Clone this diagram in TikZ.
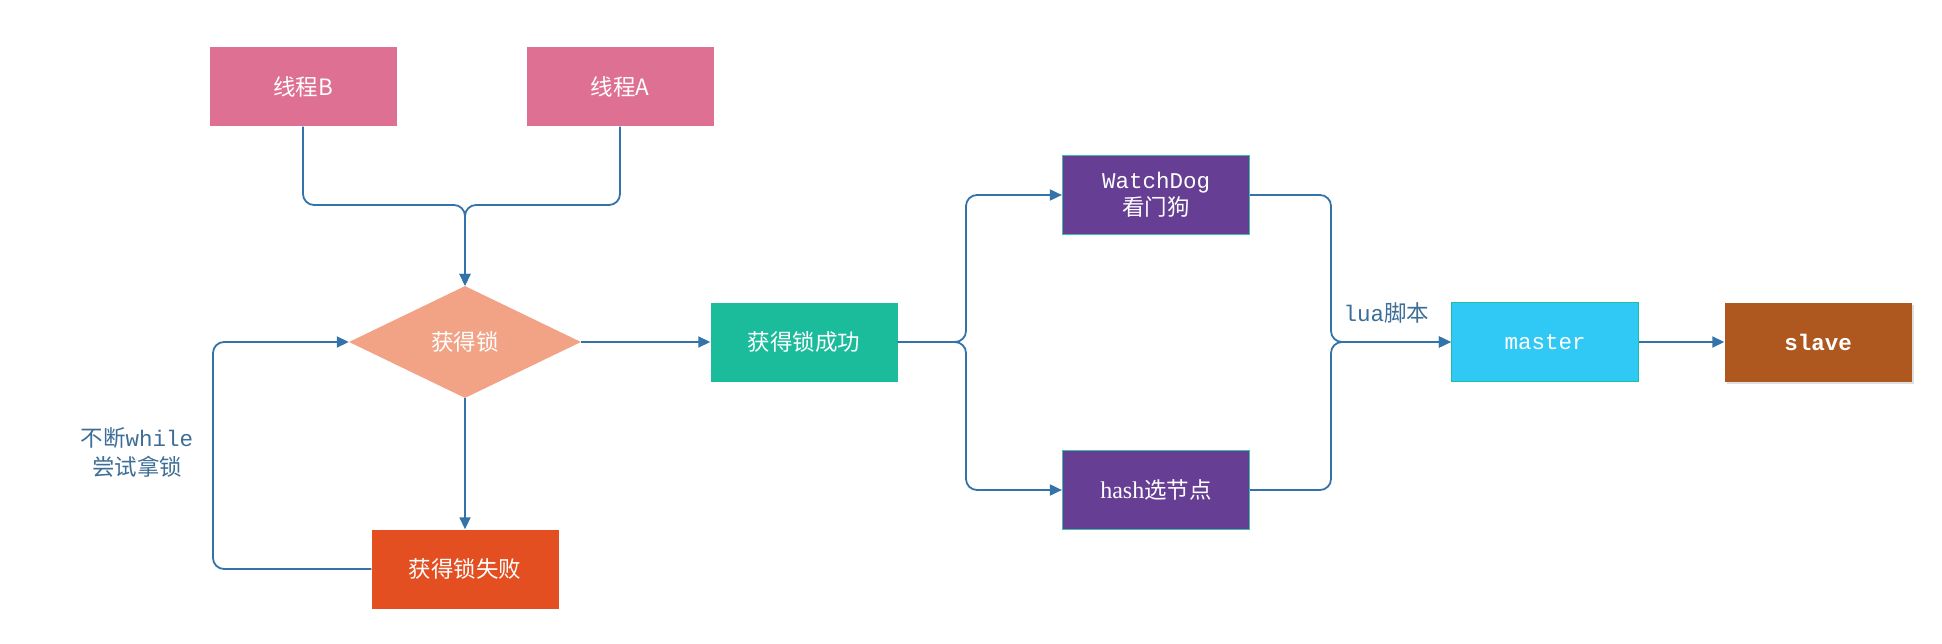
\documentclass[tikz,border=0pt]{standalone}
\usepackage{fontspec}
\setmainfont{Liberation Mono}
\newfontfamily\cjk{Noto Sans CJK SC}
\newfontfamily\latser{Liberation Serif}
\usetikzlibrary{arrows.meta,shapes.geometric,shadows}
\definecolor{pinkc}{HTML}{DE7093}
\definecolor{salmonc}{HTML}{F2A385}
\definecolor{tealc}{HTML}{1ABC9C}
\definecolor{failc}{HTML}{E34F21}
\definecolor{purplec}{HTML}{663E93}
\definecolor{purpleb}{HTML}{3DBFAE}
\definecolor{cyanc}{HTML}{30C9F5}
\definecolor{cyanb}{HTML}{20BFA0}
\definecolor{brownc}{HTML}{AE5820}
\definecolor{linec}{HTML}{3473A9}
\definecolor{labelc}{HTML}{3E6D96}
\newcommand\fsz{\fontsize{22.5}{26}\selectfont}
\tikzset{
  box/.style={rectangle, minimum width=187pt, minimum height=79pt, inner sep=0pt, text=white, font=\fsz, align=center},
  conn/.style={draw=linec, line width=1.8pt, rounded corners=11pt},
  arr/.style={conn, -{Triangle[length=12pt,width=11pt]}},
}
\begin{document}
\begin{tikzpicture}[x=1pt,y=-1pt]
\useasboundingbox (0,0) rectangle (1942,644);
\node[box, fill=pinkc] (tB) at (303,87) {\cjk 线程B};
\node[box, fill=pinkc] (tA) at (620,87) {\cjk 线程A};
\node[diamond, fill=salmonc, minimum width=232pt, minimum height=112pt, inner sep=0pt, text=white, font=\fsz] (dia) at (465,342) {\cjk 获得锁};
\node[box, fill=tealc] (succ) at (804,342) {\cjk 获得锁成功};
\node[box, fill=failc] (fail) at (465,569) {\cjk 获得锁失败};
\node[box, fill=purplec, draw=purpleb, line width=1.2pt] (wd) at (1156,195) {WatchDog\\[1pt]{\cjk 看门狗}};
\node[box, fill=purplec, draw=purpleb, line width=1.2pt] (hs) at (1156,490) {{\latser\fontsize{24}{26}\selectfont hash}{\cjk 选节点}};
\node[box, fill=cyanc, draw=cyanb, line width=1.2pt] (ms) at (1545,342) {master};
\node[box, fill=brownc, drop shadow={opacity=0.25, shadow xshift=2pt, shadow yshift=-2pt}] (sl) at (1818,342) {\bfseries slave};
\coordinate (jn) at (465,205);
\coordinate (lp) at (213,450);
\coordinate (br) at (966,342);
\coordinate (mg) at (1331,342);
\draw[arr] (tB.south) |- (jn) -- (dia.north);
\draw[arr] (tA.south) |- (jn) -- (dia.north);
\draw[arr] (dia.south) -- (fail.north);
\draw[arr] (fail.west) -| (lp) |- (dia.west);
\draw[arr] (dia.east) -- (succ.west);
\draw[arr] (succ.east) -- (br) |- (wd.west);
\draw[arr] (succ.east) -- (br) |- (hs.west);
\draw[arr] (wd.east) -| (mg) -- (ms.west);
\draw[arr] (hs.east) -| (mg) -- (ms.west);
\draw[arr] (ms.east) -- (sl.west);
\node[text=labelc, font=\fsz, align=center] (lab) at (137,452) {{\cjk 不断}while\\[3pt]{\cjk 尝试拿锁}};
\node[text=labelc, font=\fsz, anchor=west] (lua) at (1340,313) {lua{\cjk 脚本}};
\end{tikzpicture}
\end{document}
